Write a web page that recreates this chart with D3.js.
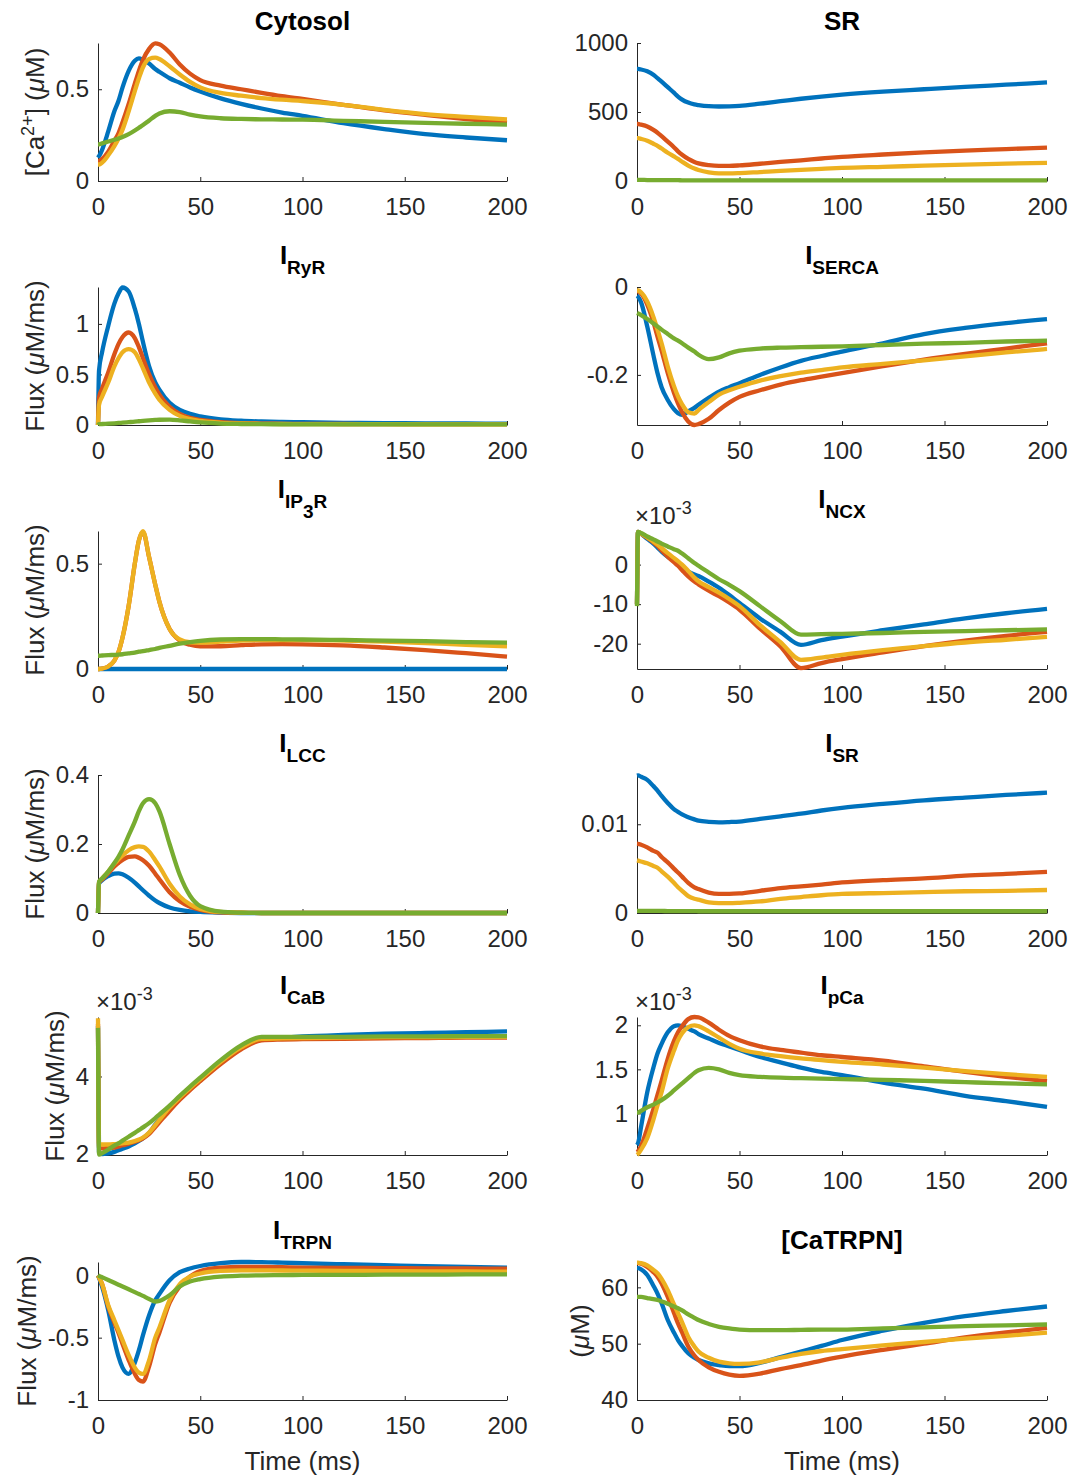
<!DOCTYPE html>
<html lang="en">
<head>
<meta charset="UTF-8">
<script src="https://d3js.org/d3.v7.min.js"></script>
<style>
  body { margin: 0; background: #fff; }
  text { font-family: "Liberation Sans", Arial, Helvetica, sans-serif; }
</style>
</head>
<body>
<script>

// sample times (ms), shared by every panel
var T = [0, 0.5, 2, 5, 8, 10, 12, 15, 18, 20, 22, 25, 28, 30, 35, 40, 45, 50, 60, 70, 80, 90, 100, 120, 140, 160, 180, 200];
var xTicks = [0, 50, 100, 150, 200];
var colors = ["#0072BD", "#D95319", "#EDB120", "#77AC30"];

// each panel: [blue, red, yellow, green]
var cytosol = [
  [0.127,0.135,0.17,0.27,0.38,0.436,0.51,0.6,0.655,0.668,0.66,0.64,0.61,0.595,0.56,0.535,0.51,0.488,0.45,0.42,0.395,0.373,0.355,0.315,0.283,0.255,0.237,0.222],
  [0.11,0.11,0.12,0.16,0.22,0.26,0.32,0.42,0.53,0.6,0.66,0.72,0.75,0.745,0.7,0.635,0.585,0.55,0.52,0.5,0.48,0.462,0.447,0.415,0.385,0.36,0.337,0.318],
  [0.09,0.09,0.1,0.14,0.19,0.23,0.28,0.38,0.49,0.56,0.62,0.665,0.672,0.665,0.625,0.58,0.54,0.51,0.48,0.465,0.452,0.443,0.436,0.415,0.388,0.365,0.35,0.336],
  [0.2,0.2,0.205,0.215,0.225,0.232,0.24,0.255,0.275,0.29,0.305,0.33,0.355,0.368,0.38,0.375,0.362,0.352,0.342,0.338,0.336,0.335,0.334,0.328,0.322,0.317,0.312,0.307]
];
var srConc = [
  [812,812,808,795,770,745,720,680,640,612,590,568,555,550,542,540,541,544,560,578,596,612,626,648,665,682,698,714],
  [413,413,408,395,370,350,325,285,245,215,190,160,138,128,115,110,110,113,125,138,150,163,175,192,207,220,231,242],
  [310,310,305,292,270,255,235,205,178,160,140,112,90,80,63,55,55,57,65,73,80,88,95,103,111,119,126,132],
  [8,8,8,7,7,6,6,6,6,6,5,5,5,5,5,5,5,5,5,5,5,5,5,5,5,5,5,5]
];
var ryr = [
  [0,0.54,0.72,0.98,1.2,1.3,1.36,1.32,1.15,1.0,0.82,0.58,0.42,0.35,0.22,0.15,0.11,0.085,0.055,0.042,0.035,0.03,0.027,0.022,0.019,0.017,0.015,0.014],
  [0,0.27,0.36,0.52,0.7,0.8,0.87,0.915,0.86,0.77,0.66,0.5,0.37,0.3,0.18,0.11,0.07,0.05,0.028,0.018,0.014,0.012,0.011,0.01,0.009,0.008,0.008,0.008],
  [0,0.2,0.28,0.42,0.58,0.66,0.72,0.75,0.72,0.65,0.56,0.42,0.31,0.25,0.15,0.09,0.058,0.04,0.022,0.015,0.012,0.01,0.009,0.008,0.008,0.007,0.007,0.007],
  [0,0.008,0.01,0.013,0.017,0.02,0.023,0.028,0.033,0.037,0.041,0.046,0.05,0.052,0.053,0.046,0.035,0.025,0.014,0.01,0.008,0.007,0.007,0.006,0.006,0.006,0.006,0.006]
];
var serca = [
  [-0.02,-0.022,-0.035,-0.09,-0.155,-0.196,-0.228,-0.257,-0.278,-0.287,-0.291,-0.283,-0.275,-0.268,-0.252,-0.238,-0.228,-0.219,-0.2,-0.183,-0.168,-0.157,-0.147,-0.128,-0.107,-0.093,-0.082,-0.073],
  [-0.01,-0.01,-0.015,-0.04,-0.08,-0.113,-0.145,-0.196,-0.24,-0.265,-0.285,-0.306,-0.314,-0.312,-0.3,-0.28,-0.263,-0.25,-0.235,-0.222,-0.212,-0.204,-0.196,-0.18,-0.165,-0.152,-0.14,-0.128],
  [-0.008,-0.008,-0.012,-0.033,-0.068,-0.097,-0.128,-0.181,-0.225,-0.249,-0.267,-0.285,-0.288,-0.28,-0.262,-0.245,-0.235,-0.227,-0.213,-0.203,-0.195,-0.189,-0.183,-0.175,-0.167,-0.158,-0.149,-0.141],
  [-0.059,-0.06,-0.064,-0.073,-0.083,-0.09,-0.097,-0.107,-0.117,-0.122,-0.128,-0.138,-0.147,-0.154,-0.164,-0.16,-0.151,-0.145,-0.14,-0.138,-0.137,-0.136,-0.135,-0.132,-0.129,-0.127,-0.124,-0.122]
];
var ip3r = [
  [0,0,0,0,0,0,0,0,0,0,0,0,0,0,0,0,0,0,0,0,0,0,0,0,0,0,0,0],
  [0,0,0.002,0.012,0.04,0.08,0.15,0.3,0.5,0.61,0.65,0.53,0.4,0.32,0.19,0.135,0.115,0.107,0.108,0.113,0.117,0.118,0.117,0.112,0.102,0.09,0.075,0.059],
  [0,0,0.002,0.012,0.04,0.08,0.15,0.3,0.5,0.61,0.654,0.53,0.4,0.32,0.19,0.14,0.127,0.125,0.13,0.135,0.137,0.137,0.137,0.135,0.13,0.123,0.115,0.108],
  [0.063,0.063,0.064,0.066,0.067,0.068,0.07,0.074,0.078,0.082,0.085,0.09,0.095,0.1,0.11,0.12,0.127,0.133,0.14,0.142,0.142,0.141,0.14,0.138,0.135,0.132,0.128,0.125]
];
// x 10^-3
var ncx = [
  [-10,8.3,7.8,6.5,5.3,4.3,3.3,2.0,1.0,0.1,-0.7,-1.8,-2.5,-2.9,-4.3,-5.85,-7.7,-9.7,-13.6,-17.0,-20.3,-19.1,-18.2,-16.6,-15.1,-13.6,-12.3,-11.2],
  [-10,8.3,7.8,6.8,5.6,4.7,3.6,2.0,0.6,-0.3,-1.4,-3.0,-4.3,-5.0,-6.6,-8.0,-9.6,-11.4,-16.2,-20.7,-26.2,-24.9,-23.9,-22.2,-20.6,-19.2,-18.0,-17.0],
  [-10,8.3,7.8,6.9,5.8,5.1,4.2,2.9,1.7,0.9,0.0,-1.6,-3.3,-4.2,-5.7,-7.1,-8.7,-10.5,-15.3,-19.6,-24.1,-23.5,-22.8,-21.6,-20.6,-19.7,-19.0,-18.3],
  [-10.5,8.3,8.0,7.1,6.4,5.85,5.3,4.6,3.9,3.5,2.8,1.6,0.4,-0.3,-2.0,-3.7,-5.1,-6.7,-10.5,-14.3,-17.7,-17.6,-17.5,-17.3,-17.0,-16.8,-16.6,-16.4]
];
var lcc = [
  [0,0.085,0.095,0.107,0.114,0.115,0.112,0.102,0.088,0.077,0.066,0.05,0.036,0.029,0.016,0.009,0.005,0.003,0.001,0,0,0,0,0,0,0,0,0],
  [0,0.088,0.097,0.115,0.135,0.145,0.154,0.163,0.164,0.16,0.153,0.137,0.114,0.098,0.06,0.034,0.018,0.009,0.002,0.001,0,0,0,0,0,0,0,0],
  [0,0.09,0.1,0.12,0.143,0.155,0.167,0.182,0.191,0.193,0.192,0.178,0.153,0.135,0.085,0.048,0.025,0.012,0.003,0.001,0,0,0,0,0,0,0,0],
  [0,0.091,0.1,0.12,0.145,0.163,0.185,0.225,0.265,0.295,0.318,0.33,0.318,0.295,0.2,0.11,0.05,0.02,0.004,0.001,0,0,0,0,0,0,0,0]
];
var srFlux = [
  [0.01548,0.0155,0.01535,0.015,0.0143,0.0138,0.0132,0.0124,0.0117,0.0114,0.0111,0.0108,0.01055,0.0104,0.01027,0.01022,0.01025,0.0103,0.0106,0.0109,0.0112,0.01155,0.01185,0.0123,0.0127,0.013,0.0133,0.01356],
  [0.00781,0.0078,0.0077,0.0074,0.007,0.0068,0.0063,0.0057,0.005,0.00456,0.0041,0.0034,0.0029,0.0027,0.0023,0.00215,0.00215,0.0022,0.0025,0.0028,0.003,0.0032,0.00344,0.0037,0.0039,0.0042,0.0044,0.00463],
  [0.00593,0.0059,0.0058,0.0056,0.0053,0.0051,0.0047,0.0041,0.0034,0.0029,0.0025,0.0019,0.0016,0.0015,0.0012,0.00111,0.00111,0.00115,0.0013,0.0016,0.0018,0.002,0.00215,0.00225,0.00235,0.00245,0.0025,0.00259],
  [0.00025,0.00025,0.00025,0.00024,0.00024,0.00023,0.00023,0.00022,0.00022,0.00022,0.00021,0.00021,0.00021,0.0002,0.0002,0.0002,0.0002,0.0002,0.0002,0.0002,0.0002,0.0002,0.0002,0.0002,0.0002,0.0002,0.0002,0.0002]
];
// x 10^-3
var cab = [
  [5.3,2.05,2.0,2.02,2.06,2.1,2.14,2.2,2.28,2.34,2.41,2.55,2.76,2.88,3.17,3.44,3.68,3.9,4.35,4.73,4.97,5.0,5.03,5.07,5.1,5.12,5.14,5.16],
  [5.35,2.15,2.15,2.16,2.17,2.2,2.23,2.27,2.32,2.36,2.41,2.52,2.7,2.82,3.12,3.4,3.65,3.88,4.32,4.7,4.93,4.95,4.96,4.97,4.98,4.99,5.0,5.0],
  [5.5,2.25,2.25,2.25,2.26,2.27,2.28,2.3,2.34,2.38,2.43,2.56,2.75,2.88,3.2,3.46,3.7,3.93,4.38,4.75,4.97,4.98,4.99,5.0,5.01,5.01,5.02,5.02],
  [5.25,1.99,2.03,2.12,2.22,2.28,2.35,2.45,2.55,2.62,2.69,2.8,2.93,3.02,3.25,3.5,3.74,3.97,4.42,4.8,5.02,5.02,5.02,5.02,5.03,5.03,5.04,5.04]
];
// x 10^-3
var pca = [
  [0.64,0.66,0.85,1.24,1.52,1.68,1.79,1.92,1.99,2.0,1.99,1.96,1.93,1.9,1.85,1.8,1.76,1.72,1.64,1.58,1.52,1.47,1.434,1.35,1.28,1.2,1.14,1.075],
  [0.56,0.57,0.63,0.83,1.05,1.21,1.37,1.62,1.82,1.92,1.99,2.07,2.094,2.09,2.03,1.95,1.88,1.83,1.76,1.72,1.69,1.66,1.64,1.6,1.535,1.47,1.415,1.366],
  [0.53,0.54,0.59,0.72,0.93,1.09,1.24,1.51,1.71,1.83,1.91,1.98,2.0,1.99,1.93,1.86,1.79,1.735,1.68,1.65,1.625,1.605,1.585,1.555,1.52,1.48,1.445,1.415],
  [1.01,1.01,1.03,1.07,1.1,1.125,1.15,1.2,1.26,1.3,1.34,1.4,1.46,1.49,1.517,1.5,1.46,1.434,1.415,1.405,1.4,1.395,1.39,1.38,1.37,1.355,1.34,1.33]
];
var trpn = [
  [0,-0.02,-0.09,-0.28,-0.52,-0.65,-0.74,-0.79,-0.7,-0.6,-0.48,-0.32,-0.2,-0.15,-0.04,0.025,0.055,0.075,0.098,0.107,0.106,0.102,0.097,0.089,0.081,0.073,0.067,0.062],
  [0,-0.015,-0.07,-0.25,-0.38,-0.46,-0.55,-0.68,-0.79,-0.84,-0.852,-0.73,-0.55,-0.46,-0.22,-0.086,-0.01,0.035,0.062,0.067,0.067,0.065,0.062,0.06,0.058,0.056,0.055,0.054],
  [0,-0.015,-0.07,-0.24,-0.36,-0.44,-0.52,-0.64,-0.74,-0.78,-0.79,-0.68,-0.5,-0.42,-0.2,-0.07,-0.01,0.015,0.035,0.04,0.04,0.039,0.038,0.036,0.034,0.032,0.031,0.03],
  [0,-0.004,-0.015,-0.037,-0.06,-0.075,-0.09,-0.112,-0.135,-0.15,-0.165,-0.19,-0.21,-0.205,-0.16,-0.09,-0.05,-0.03,-0.01,-0.003,0,0.002,0.003,0.004,0.005,0.006,0.007,0.008]
];
var caTrpn = [
  [63.4,63.4,63.2,62.2,60.3,58.9,57.2,54.2,52.0,50.65,49.6,48.3,47.5,47.1,46.5,46.2,46.0,46.0,46.6,47.6,48.6,49.6,50.65,52.3,53.7,54.9,55.8,56.6],
  [64.3,64.3,64.2,63.6,62.7,61.9,60.7,58.3,55.5,53.6,52.0,49.5,47.9,47.1,45.8,45.0,44.5,44.3,44.7,45.5,46.2,47.0,47.7,48.9,50.0,51.1,52.0,52.8],
  [64.4,64.4,64.3,63.9,63.1,62.5,61.5,59.5,57.0,55.4,53.8,51.2,49.5,48.6,47.5,46.8,46.5,46.4,46.7,47.5,48.2,48.7,49.05,49.7,50.3,50.9,51.4,51.95],
  [58.3,58.3,58.3,58.1,57.9,57.75,57.5,57.1,56.6,56.3,55.9,55.2,54.6,54.2,53.5,53.0,52.7,52.5,52.4,52.4,52.45,52.5,52.5,52.7,52.9,53.1,53.25,53.4]
];

// layout
var width = 1075, height = 1478;
var colX = [[98, 507], [637, 1047]];
var rowBottom = [181, 425, 669, 913, 1155, 1400];
var plotH = 138;
var ink = "#262626";
var subStep = 10;   // how far each subscript level drops

var panels = [
  { data: cytosol, row: 0, col: 0, title: [["Cytosol", 0]], ylim: [0, 0.752], yticks: [0, 0.5], ylab: "conc" },
  { data: srConc, row: 0, col: 1, title: [["SR", 0]], ylim: [0, 1000], yticks: [0, 500, 1000] },
  { data: ryr, row: 1, col: 0, title: [["I", 0], ["RyR", 1]], ylim: [0, 1.365], yticks: [0, 0.5, 1], ylab: "flux" },
  { data: serca, row: 1, col: 1, title: [["I", 0], ["SERCA", 1]], ylim: [-0.314, 0], yticks: [-0.2, 0] },
  { data: ip3r, row: 2, col: 0, title: [["I", 0], ["IP", 1], ["3", 2], ["R", 1]], ylim: [0, 0.655], yticks: [0, 0.5], ylab: "flux" },
  { data: ncx, row: 2, col: 1, title: [["I", 0], ["NCX", 1]], ylim: [-26.4, 8.5], yticks: [-20, -10, 0], exp: true },
  { data: lcc, row: 3, col: 0, title: [["I", 0], ["LCC", 1]], ylim: [0, 0.4], yticks: [0, 0.2, 0.4], ylab: "flux" },
  { data: srFlux, row: 3, col: 1, title: [["I", 0], ["SR", 1]], ylim: [0, 0.01555], yticks: [0, 0.01] },
  { data: cab, row: 4, col: 0, title: [["I", 0], ["CaB", 1]], ylim: [1.98, 5.53], yticks: [2, 4], ylab: "flux", exp: true },
  { data: pca, row: 4, col: 1, title: [["I", 0], ["pCa", 1]], ylim: [0.528, 2.094], yticks: [1, 1.5, 2], exp: true },
  { data: trpn, row: 5, col: 0, title: [["I", 0], ["TRPN", 1]], ylim: [-1, 0.107], yticks: [-1, -0.5, 0], ylab: "flux", xlab: true },
  { data: caTrpn, row: 5, col: 1, title: [["[CaTRPN]", 0]], ylim: [40, 64.5], yticks: [40, 50, 60], ylab: "um", xlab: true }
];

var svg = d3.select("body").append("svg")
  .attr("width", width)
  .attr("height", height);

panels.forEach(function (p) {
  var x0 = colX[p.col][0], x1 = colX[p.col][1];
  var bottom = rowBottom[p.row], top = bottom - plotH;

  var x = d3.scaleLinear().domain([0, 200]).range([x0, x1]);
  var y = d3.scaleLinear().domain(p.ylim).range([bottom, top]);

  var g = svg.append("g");

  // x axis, ticks pointing inward
  var gx = g.append("g")
    .attr("transform", "translate(0," + bottom + ")")
    .call(d3.axisBottom(x).tickValues(xTicks).tickSizeInner(-4).tickSizeOuter(0).tickPadding(17));

  var gy = g.append("g")
    .attr("transform", "translate(" + x0 + ",0)")
    .call(d3.axisLeft(y).tickValues(p.yticks).tickSizeInner(-4).tickSizeOuter(0).tickPadding(9)
      .tickFormat(function (d) { return String(d); }));

  [gx, gy].forEach(function (a) {
    a.attr("font-size", null).attr("font-family", null);
    a.select(".domain").attr("stroke", ink);
    a.selectAll(".tick line").attr("stroke", ink);
    a.selectAll(".tick text").attr("fill", ink).style("font-size", "24px");
  });

  // lines, blue first and green on top
  var line = d3.line()
    .x(function (d, j) { return x(T[j]); })
    .y(function (d) { return y(d); })
    .curve(d3.curveMonotoneX);

  p.data.forEach(function (s, i) {
    g.append("path")
      .attr("d", line(s))
      .attr("fill", "none")
      .attr("stroke", colors[i])
      .attr("stroke-width", 4.3)
      .attr("stroke-linejoin", "round");
  });

  // title: lowest piece sits 13px above the axes
  var levels = d3.max(p.title, function (d) { return d[1]; });
  var title = g.append("text")
    .attr("x", (x0 + x1) / 2)
    .attr("y", top - 13 - levels * subStep)
    .attr("text-anchor", "middle")
    .attr("font-weight", "bold")
    .attr("fill", "#000");
  var lvl = 0;
  p.title.forEach(function (part) {
    title.append("tspan")
      .attr("dy", (part[1] - lvl) * subStep)
      .style("font-size", part[1] === 0 ? "26px" : "19px")
      .text(part[0]);
    lvl = part[1];
  });

  // x10^-3 multiplier
  if (p.exp) {
    var e = g.append("text")
      .attr("x", x0 - 2)
      .attr("y", top - 7)
      .attr("fill", ink)
      .style("font-size", "24px");
    e.append("tspan").text("\u00d710");
    e.append("tspan").attr("dy", -10).style("font-size", "18px").text("-3");
  }

  // y label, placed left of the widest tick label
  if (p.ylab) {
    var tw = 0;
    gy.selectAll(".tick text").each(function () {
      tw = Math.max(tw, this.getBBox().width);
    });
    var lx = x0 - 9 - tw - 12;
    var ly = (top + bottom) / 2;
    var lab = g.append("text")
      .attr("transform", "translate(" + lx + "," + ly + ") rotate(-90)")
      .attr("text-anchor", "middle")
      .attr("fill", ink)
      .style("font-size", "26px");
    if (p.ylab === "conc") {
      lab.append("tspan").text("[Ca");
      lab.append("tspan").attr("dy", -10).style("font-size", "18px").text("2+");
      lab.append("tspan").attr("dy", 10).text("] (");
    } else if (p.ylab === "flux") {
      lab.append("tspan").text("Flux (");
    } else {
      lab.append("tspan").text("(");
    }
    lab.append("tspan").style("font-style", "italic").text("\u03bc");
    lab.append("tspan").text(p.ylab === "flux" ? "M/ms)" : "M)");
  }

  if (p.xlab) {
    g.append("text")
      .attr("x", (x0 + x1) / 2)
      .attr("y", bottom + 70)
      .attr("text-anchor", "middle")
      .attr("fill", ink)
      .style("font-size", "26px")
      .text("Time (ms)");
  }
});

</script>
</body>
</html>
